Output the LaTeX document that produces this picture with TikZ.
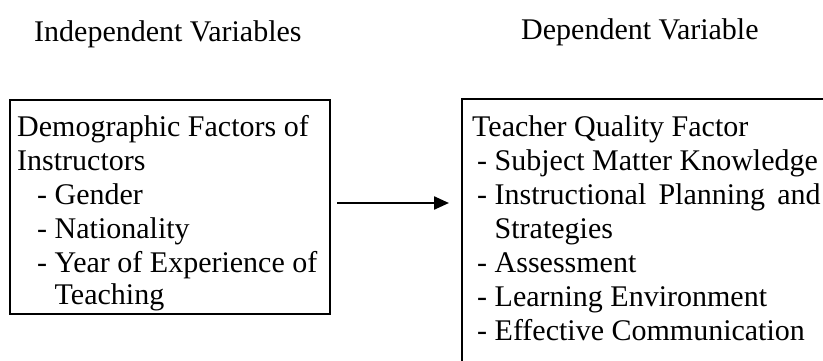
\documentclass[tikz,border=0pt]{standalone}
\usepackage{fontspec}
\setmainfont{Liberation Serif}
\usetikzlibrary{arrows.meta}
\begin{document}
\begin{tikzpicture}[x=1pt,y=-1pt,
  boxstyle/.style={draw, line width=2.2pt, inner sep=0pt},
  txt/.style={anchor=base west, inner sep=0pt, font=\fontsize{30}{34}\selectfont},
  conn/.style={line width=2.3pt, -{Triangle[length=15pt,width=13pt]}}]
\useasboundingbox (0,0) rectangle (823,360);
\clip (0,0) rectangle (823,360);
% titles
\node[txt] (t1) at (34,41) {Independent Variables};
\node[txt] (t2) at (521,39) {Dependent Variable};
% boxes
\node[boxstyle, anchor=north west, minimum width=320pt, minimum height=214pt] (L) at (9,99) {};
\node[boxstyle, anchor=north west, minimum width=420pt, minimum height=320pt] (R) at (461,98) {};
% left box text
\node[txt] (l1) at (17,136) {Demographic Factors of};
\node[txt] (l2) at (17,170) {Instructors};
\node[txt] (l3) at (37,204) {- Gender};
\node[txt] (l4) at (37,238) {- Nationality};
\node[txt] (l5) at (37,272) {- Year of Experience of};
\node[txt] (l6) at (54.5,304) {Teaching};
% right box text
\node[txt] (r1) at (472,136) {Teacher Quality Factor};
\node[txt] (r2) at (477,170) {- Subject Matter Knowledge};
\node[txt] (r3) at (477,204) {- \makebox[326pt][s]{Instructional Planning and}};
\node[txt] (r4) at (494.5,238) {Strategies};
\node[txt] (r5) at (477,272) {- Assessment};
\node[txt] (r6) at (477,306) {- Learning Environment};
\node[txt] (r7) at (477,340) {- Effective Communication};
% arrow
\coordinate (a1) at (337,203);
\coordinate (a2) at (449,203);
\draw[conn] (a1) -- (a2);
\end{tikzpicture}
\end{document}
